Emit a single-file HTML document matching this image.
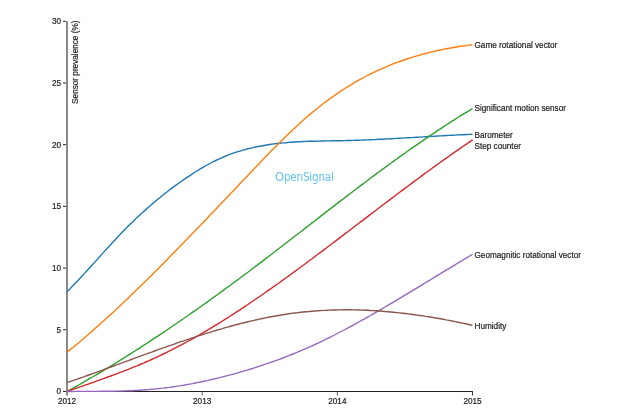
<!DOCTYPE html>
<html><head><meta charset="utf-8"><style>
html,body{margin:0;padding:0;background:#fff;width:640px;height:417px;overflow:hidden}
svg{display:block;will-change:transform}
</style></head><body>
<svg width="640" height="417" viewBox="0 0 640 417">
<text x="275.0" y="181.4" font-family="DejaVu Sans Condensed, DejaVu Sans, sans-serif" font-stretch="condensed" font-size="11.6" letter-spacing="-0.22" fill="#62c2ee"><tspan font-family="DejaVu Sans, sans-serif" font-stretch="normal">O</tspan>penSignal</text>
<g fill="none">
<path d="M67,21.3V395.5" stroke="#8a8a8a" stroke-width="2"/>
<path d="M63,391.50H66" stroke="#222" stroke-width="1"/>
<path d="M63,329.80H66" stroke="#222" stroke-width="1"/>
<path d="M63,268.10H66" stroke="#222" stroke-width="1"/>
<path d="M63,206.40H66" stroke="#222" stroke-width="1"/>
<path d="M63,144.70H66" stroke="#222" stroke-width="1"/>
<path d="M63,83.00H66" stroke="#222" stroke-width="1"/>
<path d="M63,21.30H66" stroke="#222" stroke-width="1"/>
<path d="M68,391.5H472.5" stroke="#222" stroke-width="1"/>
<path d="M472.5,391V395.5" stroke="#333" stroke-width="1"/>
<path d="M202.17,392V395.5" stroke="#555" stroke-width="1"/>
<path d="M337.33,392V395.5" stroke="#555" stroke-width="1"/>
</g>
<path d="M67.0,291.8L69.9,288.9L72.8,285.8L75.8,282.8L78.7,279.7L81.6,276.6L84.5,273.4L87.4,270.2L90.3,267.0L93.3,263.8L96.2,260.6L99.1,257.3L102.0,254.1L104.9,250.9L107.8,247.7L110.8,244.5L113.7,241.3L116.6,238.2L119.5,235.1L122.4,232.1L125.3,229.1L128.3,226.1L131.2,223.2L134.1,220.4L137.0,217.6L139.9,214.9L142.8,212.2L145.8,209.6L148.7,207.0L151.6,204.5L154.5,202.0L157.4,199.5L160.4,197.2L163.3,194.8L166.2,192.5L169.1,190.3L172.0,188.1L174.9,185.9L177.9,183.8L180.8,181.7L183.7,179.7L186.6,177.7L189.5,175.8L192.4,173.9L195.4,172.0L198.3,170.2L201.2,168.4L204.1,166.7L207.0,165.0L209.9,163.5L212.9,161.9L215.8,160.5L218.7,159.1L221.6,157.8L224.5,156.5L227.4,155.3L230.4,154.2L233.3,153.2L236.2,152.2L239.1,151.3L242.0,150.4L245.0,149.6L247.9,148.8L250.8,148.1L253.7,147.4L256.6,146.8L259.5,146.2L262.5,145.7L265.4,145.2L268.3,144.7L271.2,144.3L274.1,143.9L277.0,143.5L280.0,143.2L282.9,142.9L285.8,142.7L288.7,142.4L291.6,142.2L294.5,142.0L297.5,141.8L300.4,141.7L303.3,141.5L306.2,141.4L309.1,141.3L312.1,141.2L315.0,141.2L317.9,141.1L320.8,141.0L323.7,141.0L326.6,140.9L329.6,140.9L332.5,140.8L335.4,140.8L338.3,140.7L341.2,140.7L344.1,140.6L347.1,140.5L350.0,140.5L352.9,140.4L355.8,140.3L358.7,140.2L361.6,140.1L364.6,140.0L367.5,139.9L370.4,139.7L373.3,139.6L376.2,139.5L379.1,139.3L382.1,139.2L385.0,139.0L387.9,138.9L390.8,138.7L393.7,138.6L396.7,138.4L399.6,138.2L402.5,138.1L405.4,137.9L408.3,137.7L411.2,137.6L414.2,137.4L417.1,137.2L420.0,137.1L422.9,136.9L425.8,136.7L428.7,136.5L431.7,136.4L434.6,136.2L437.5,136.0L440.4,135.9L443.3,135.7L446.2,135.5L449.2,135.4L452.1,135.2L455.0,135.1L457.9,134.9L460.8,134.8L463.7,134.7L466.7,134.5L469.6,134.4L472.5,134.3" fill="none" stroke="#1f77b4" stroke-width="1.4"/>
<path d="M67.0,352.3L69.9,349.9L72.8,347.5L75.8,345.1L78.7,342.7L81.6,340.2L84.5,337.7L87.4,335.2L90.3,332.7L93.3,330.1L96.2,327.5L99.1,324.9L102.0,322.3L104.9,319.7L107.8,317.0L110.8,314.4L113.7,311.7L116.6,309.0L119.5,306.2L122.4,303.5L125.3,300.7L128.3,297.9L131.2,295.1L134.1,292.3L137.0,289.5L139.9,286.7L142.8,283.8L145.8,281.0L148.7,278.1L151.6,275.2L154.5,272.3L157.4,269.4L160.4,266.4L163.3,263.5L166.2,260.5L169.1,257.6L172.0,254.6L174.9,251.6L177.9,248.6L180.8,245.6L183.7,242.6L186.6,239.6L189.5,236.6L192.4,233.6L195.4,230.5L198.3,227.5L201.2,224.5L204.1,221.4L207.0,218.4L209.9,215.3L212.9,212.2L215.8,209.2L218.7,206.1L221.6,203.0L224.5,200.0L227.4,196.9L230.4,193.8L233.3,190.8L236.2,187.7L239.1,184.6L242.0,181.5L245.0,178.5L247.9,175.4L250.8,172.3L253.7,169.3L256.6,166.2L259.5,163.2L262.5,160.1L265.4,157.1L268.3,154.1L271.2,151.1L274.1,148.1L277.0,145.2L280.0,142.3L282.9,139.4L285.8,136.5L288.7,133.7L291.6,130.9L294.5,128.2L297.5,125.4L300.4,122.8L303.3,120.2L306.2,117.6L309.1,115.1L312.1,112.6L315.0,110.2L317.9,107.8L320.8,105.5L323.7,103.3L326.6,101.1L329.6,98.9L332.5,96.8L335.4,94.8L338.3,92.8L341.2,90.8L344.1,89.0L347.1,87.1L350.0,85.3L352.9,83.6L355.8,81.9L358.7,80.2L361.6,78.6L364.6,77.0L367.5,75.5L370.4,74.0L373.3,72.6L376.2,71.2L379.1,69.9L382.1,68.6L385.0,67.3L387.9,66.1L390.8,64.9L393.7,63.7L396.7,62.6L399.6,61.5L402.5,60.5L405.4,59.5L408.3,58.5L411.2,57.6L414.2,56.7L417.1,55.8L420.0,55.0L422.9,54.2L425.8,53.4L428.7,52.7L431.7,51.9L434.6,51.3L437.5,50.6L440.4,50.0L443.3,49.4L446.2,48.8L449.2,48.2L452.1,47.7L455.0,47.2L457.9,46.7L460.8,46.3L463.7,45.9L466.7,45.5L469.6,45.1L472.5,44.7" fill="none" stroke="#ff7f0e" stroke-width="1.4"/>
<path d="M67.0,391.5L69.9,389.9L72.8,388.3L75.8,386.6L78.7,385.0L81.6,383.3L84.5,381.6L87.4,379.9L90.3,378.2L93.3,376.5L96.2,374.8L99.1,373.1L102.0,371.4L104.9,369.6L107.8,367.8L110.8,366.1L113.7,364.3L116.6,362.5L119.5,360.7L122.4,358.9L125.3,357.0L128.3,355.2L131.2,353.4L134.1,351.5L137.0,349.6L139.9,347.8L142.8,345.9L145.8,344.0L148.7,342.1L151.6,340.2L154.5,338.2L157.4,336.3L160.4,334.4L163.3,332.4L166.2,330.5L169.1,328.5L172.0,326.5L174.9,324.5L177.9,322.5L180.8,320.5L183.7,318.5L186.6,316.5L189.5,314.5L192.4,312.4L195.4,310.4L198.3,308.3L201.2,306.2L204.1,304.2L207.0,302.1L209.9,300.0L212.9,297.9L215.8,295.8L218.7,293.7L221.6,291.6L224.5,289.4L227.4,287.3L230.4,285.2L233.3,283.0L236.2,280.9L239.1,278.7L242.0,276.5L245.0,274.3L247.9,272.2L250.8,270.0L253.7,267.8L256.6,265.6L259.5,263.4L262.5,261.1L265.4,258.9L268.3,256.7L271.2,254.5L274.1,252.2L277.0,250.0L280.0,247.7L282.9,245.5L285.8,243.2L288.7,241.0L291.6,238.7L294.5,236.5L297.5,234.2L300.4,232.0L303.3,229.7L306.2,227.4L309.1,225.2L312.1,222.9L315.0,220.7L317.9,218.4L320.8,216.1L323.7,213.9L326.6,211.6L329.6,209.4L332.5,207.1L335.4,204.9L338.3,202.6L341.2,200.4L344.1,198.2L347.1,195.9L350.0,193.7L352.9,191.5L355.8,189.3L358.7,187.1L361.6,184.9L364.6,182.7L367.5,180.5L370.4,178.3L373.3,176.1L376.2,173.9L379.1,171.8L382.1,169.6L385.0,167.5L387.9,165.4L390.8,163.2L393.7,161.1L396.7,159.0L399.6,156.9L402.5,154.8L405.4,152.8L408.3,150.7L411.2,148.6L414.2,146.6L417.1,144.6L420.0,142.6L422.9,140.6L425.8,138.6L428.7,136.6L431.7,134.6L434.6,132.7L437.5,130.7L440.4,128.8L443.3,126.9L446.2,125.0L449.2,123.1L452.1,121.2L455.0,119.4L457.9,117.5L460.8,115.7L463.7,113.9L466.7,112.1L469.6,110.4L472.5,108.6" fill="none" stroke="#2ca02c" stroke-width="1.4"/>
<path d="M67.0,391.5L69.9,390.5L72.8,389.4L75.8,388.4L78.7,387.4L81.6,386.4L84.5,385.3L87.4,384.3L90.3,383.3L93.3,382.3L96.2,381.2L99.1,380.2L102.0,379.1L104.9,378.1L107.9,377.0L110.8,376.0L113.7,374.9L116.6,373.8L119.5,372.7L122.4,371.6L125.4,370.4L128.3,369.3L131.2,368.1L134.1,366.9L137.0,365.8L139.9,364.5L142.9,363.3L145.8,362.0L148.7,360.8L151.6,359.5L154.5,358.2L157.5,356.8L160.4,355.4L163.3,354.0L166.2,352.6L169.1,351.2L172.0,349.7L175.0,348.2L177.9,346.7L180.8,345.2L183.7,343.6L186.6,342.0L189.6,340.4L192.5,338.8L195.4,337.2L198.3,335.5L201.2,333.8L204.1,332.1L207.1,330.4L210.0,328.7L212.9,326.9L215.8,325.1L218.7,323.3L221.7,321.5L224.6,319.7L227.5,317.8L230.4,316.0L233.3,314.1L236.2,312.2L239.2,310.3L242.1,308.4L245.0,306.4L247.9,304.5L250.8,302.5L253.8,300.5L256.7,298.5L259.6,296.5L262.5,294.5L265.4,292.5L268.3,290.4L271.3,288.4L274.2,286.3L277.1,284.3L280.0,282.2L282.9,280.1L285.8,278.0L288.8,275.9L291.7,273.7L294.6,271.6L297.5,269.5L300.4,267.3L303.4,265.2L306.3,263.0L309.2,260.8L312.1,258.7L315.0,256.5L317.9,254.3L320.9,252.1L323.8,249.9L326.7,247.7L329.6,245.5L332.5,243.3L335.5,241.1L338.4,238.9L341.3,236.6L344.2,234.4L347.1,232.2L350.0,230.0L353.0,227.8L355.9,225.5L358.8,223.3L361.7,221.1L364.6,218.9L367.6,216.6L370.5,214.4L373.4,212.2L376.3,210.0L379.2,207.7L382.1,205.5L385.1,203.3L388.0,201.1L390.9,198.9L393.8,196.7L396.7,194.5L399.7,192.3L402.6,190.1L405.5,187.9L408.4,185.7L411.3,183.6L414.2,181.4L417.2,179.2L420.1,177.1L423.0,174.9L425.9,172.8L428.8,170.7L431.7,168.5L434.7,166.4L437.6,164.3L440.5,162.2L443.4,160.1L446.3,158.1L449.3,156.0L452.2,153.9L455.1,151.9L458.0,149.9L460.9,147.9L463.8,145.8L466.8,143.9L469.7,141.9L472.6,139.9" fill="none" stroke="#d62728" stroke-width="1.4"/>
<path d="M67.0,391.5L69.9,391.5L72.8,391.5L75.8,391.4L78.7,391.4L81.6,391.4L84.5,391.4L87.4,391.4L90.3,391.4L93.3,391.4L96.2,391.4L99.1,391.4L102.0,391.3L104.9,391.3L107.8,391.3L110.8,391.2L113.7,391.2L116.6,391.1L119.5,391.1L122.4,391.0L125.3,390.9L128.3,390.8L131.2,390.7L134.1,390.5L137.0,390.4L139.9,390.2L142.8,390.0L145.8,389.8L148.7,389.6L151.6,389.3L154.5,389.1L157.4,388.8L160.4,388.4L163.3,388.1L166.2,387.7L169.1,387.4L172.0,387.0L174.9,386.5L177.9,386.1L180.8,385.6L183.7,385.2L186.6,384.6L189.5,384.1L192.4,383.6L195.4,383.0L198.3,382.4L201.2,381.8L204.1,381.2L207.0,380.6L209.9,379.9L212.9,379.3L215.8,378.6L218.7,377.9L221.6,377.1L224.5,376.4L227.4,375.6L230.4,374.9L233.3,374.1L236.2,373.3L239.1,372.4L242.0,371.6L245.0,370.7L247.9,369.9L250.8,369.0L253.7,368.1L256.6,367.1L259.5,366.2L262.5,365.2L265.4,364.2L268.3,363.2L271.2,362.2L274.1,361.2L277.0,360.1L280.0,359.1L282.9,358.0L285.8,356.8L288.7,355.7L291.6,354.5L294.5,353.4L297.5,352.2L300.4,350.9L303.3,349.7L306.2,348.4L309.1,347.2L312.1,345.8L315.0,344.5L317.9,343.2L320.8,341.8L323.7,340.4L326.6,338.9L329.6,337.5L332.5,336.0L335.4,334.5L338.3,333.0L341.2,331.5L344.1,330.0L347.1,328.4L350.0,326.8L352.9,325.3L355.8,323.7L358.7,322.0L361.6,320.4L364.6,318.8L367.5,317.1L370.4,315.5L373.3,313.8L376.2,312.1L379.1,310.4L382.1,308.8L385.0,307.0L387.9,305.3L390.8,303.6L393.7,301.9L396.7,300.1L399.6,298.4L402.5,296.7L405.4,294.9L408.3,293.1L411.2,291.4L414.2,289.6L417.1,287.9L420.0,286.1L422.9,284.3L425.8,282.5L428.7,280.8L431.7,279.0L434.6,277.2L437.5,275.4L440.4,273.7L443.3,271.9L446.2,270.1L449.2,268.3L452.1,266.6L455.0,264.8L457.9,263.0L460.8,261.3L463.7,259.5L466.7,257.8L469.6,256.0L472.5,254.3" fill="none" stroke="#9467bd" stroke-width="1.4"/>
<path d="M67.0,382.7L69.9,381.7L72.8,380.7L75.8,379.7L78.7,378.6L81.6,377.6L84.5,376.6L87.4,375.5L90.3,374.5L93.3,373.4L96.2,372.4L99.1,371.3L102.0,370.3L104.9,369.2L107.8,368.1L110.8,367.0L113.7,366.0L116.6,364.9L119.5,363.8L122.4,362.7L125.3,361.7L128.3,360.6L131.2,359.5L134.1,358.4L137.0,357.4L139.9,356.3L142.8,355.2L145.8,354.2L148.7,353.1L151.6,352.1L154.5,351.0L157.4,349.9L160.4,348.9L163.3,347.9L166.2,346.8L169.1,345.8L172.0,344.8L174.9,343.8L177.9,342.7L180.8,341.7L183.7,340.8L186.6,339.8L189.5,338.8L192.4,337.8L195.4,336.9L198.3,335.9L201.2,335.0L204.1,334.1L207.0,333.2L209.9,332.3L212.9,331.4L215.8,330.5L218.7,329.6L221.6,328.8L224.5,327.9L227.4,327.1L230.4,326.3L233.3,325.5L236.2,324.7L239.1,324.0L242.0,323.2L245.0,322.5L247.9,321.8L250.8,321.1L253.7,320.4L256.6,319.8L259.5,319.1L262.5,318.5L265.4,317.9L268.3,317.3L271.2,316.7L274.1,316.2L277.0,315.7L280.0,315.2L282.9,314.7L285.8,314.3L288.7,313.8L291.6,313.4L294.5,313.0L297.5,312.7L300.4,312.3L303.3,312.0L306.2,311.7L309.1,311.5L312.1,311.2L315.0,311.0L317.9,310.8L320.8,310.6L323.7,310.4L326.6,310.3L329.6,310.1L332.5,310.0L335.4,310.0L338.3,309.9L341.2,309.9L344.1,309.8L347.1,309.8L350.0,309.8L352.9,309.9L355.8,309.9L358.7,310.0L361.6,310.1L364.6,310.2L367.5,310.3L370.4,310.5L373.3,310.6L376.2,310.8L379.1,311.0L382.1,311.2L385.0,311.5L387.9,311.7L390.8,312.0L393.7,312.3L396.7,312.6L399.6,312.9L402.5,313.2L405.4,313.5L408.3,313.9L411.2,314.3L414.2,314.7L417.1,315.1L420.0,315.5L422.9,315.9L425.8,316.4L428.7,316.8L431.7,317.3L434.6,317.8L437.5,318.3L440.4,318.8L443.3,319.3L446.2,319.9L449.2,320.4L452.1,321.0L455.0,321.6L457.9,322.2L460.8,322.8L463.7,323.4L466.7,324.0L469.6,324.7L472.5,325.3" fill="none" stroke="#8c564b" stroke-width="1.4"/>
<g font-family="Liberation Sans, Arial, sans-serif" font-size="8.2" fill="#222" stroke="#222" stroke-width="0.2">
<text x="61" y="394.40" text-anchor="end">0</text>
<text x="61" y="332.70" text-anchor="end">5</text>
<text x="61" y="271.00" text-anchor="end">10</text>
<text x="61" y="209.30" text-anchor="end">15</text>
<text x="61" y="147.60" text-anchor="end">20</text>
<text x="61" y="85.90" text-anchor="end">25</text>
<text x="61" y="24.20" text-anchor="end">30</text>
<text x="67.00" y="403.5" text-anchor="middle">2012</text>
<text x="202.17" y="403.5" text-anchor="middle">2013</text>
<text x="337.33" y="403.5" text-anchor="middle">2014</text>
<text x="472.50" y="403.5" text-anchor="middle">2015</text>
<text transform="translate(77.7,20.6) rotate(-90)" text-anchor="end">Sensor prevalence (%)</text>
<text x="474.5" y="47.50">Game rotational vector</text>
<text x="474.5" y="111.00">Significant motion sensor</text>
<text x="474.5" y="138.10">Barometer</text>
<text x="474.5" y="149.30">Step counter</text>
<text x="474.5" y="257.50">Geomagnitic rotational vector</text>
<text x="474.5" y="329.30">Humidity</text>
</g>
</svg>
</body></html>
